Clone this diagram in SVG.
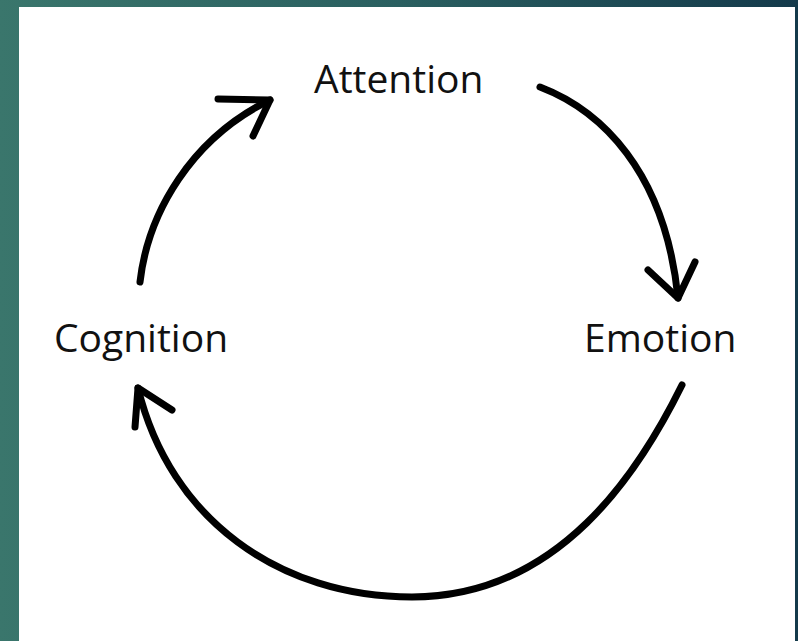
<svg xmlns="http://www.w3.org/2000/svg" width="798" height="641" viewBox="0 0 798 641">
<defs>
<linearGradient id="bg" x1="0" y1="0" x2="1" y2="0">
<stop offset="0" stop-color="#3a766c"/>
<stop offset="0.5" stop-color="#2a5f60"/>
<stop offset="1" stop-color="#143a4b"/>
</linearGradient>
<style>
.lbl{font-family:"Open Sans","Liberation Sans",sans-serif;font-size:39px;fill:#111;}
.ln{fill:none;stroke:#000;stroke-width:7;stroke-linecap:round;stroke-linejoin:round;}
</style>
</defs>
<rect x="0" y="0" width="798" height="641" fill="url(#bg)"/>
<rect x="19" y="7" width="776" height="634" fill="#ffffff"/>
<g id="attention"><text class="lbl" x="314" y="93">Attention</text></g>
<g id="emotion"><text class="lbl" x="584" y="352">Emotion</text></g>
<g id="cognition"><text class="lbl" x="54" y="352">Cognition</text></g>
<g id="connectors">
<path class="ln" d="M140,282 C148,212 192,138 270,100"/>
<path class="ln" d="M218,99 L270,100 L253,136"/>
<path class="ln" d="M540,87 C600,110 665,170 678,298"/>
<path class="ln" d="M648,270 L678,298 L695,262"/>
<path class="ln" d="M682,385 C640,470 560,597 412,597 C280,597 170,520 138,388"/>
<path class="ln" d="M135,427 L138,388 L172,410"/>
</g>
</svg>
